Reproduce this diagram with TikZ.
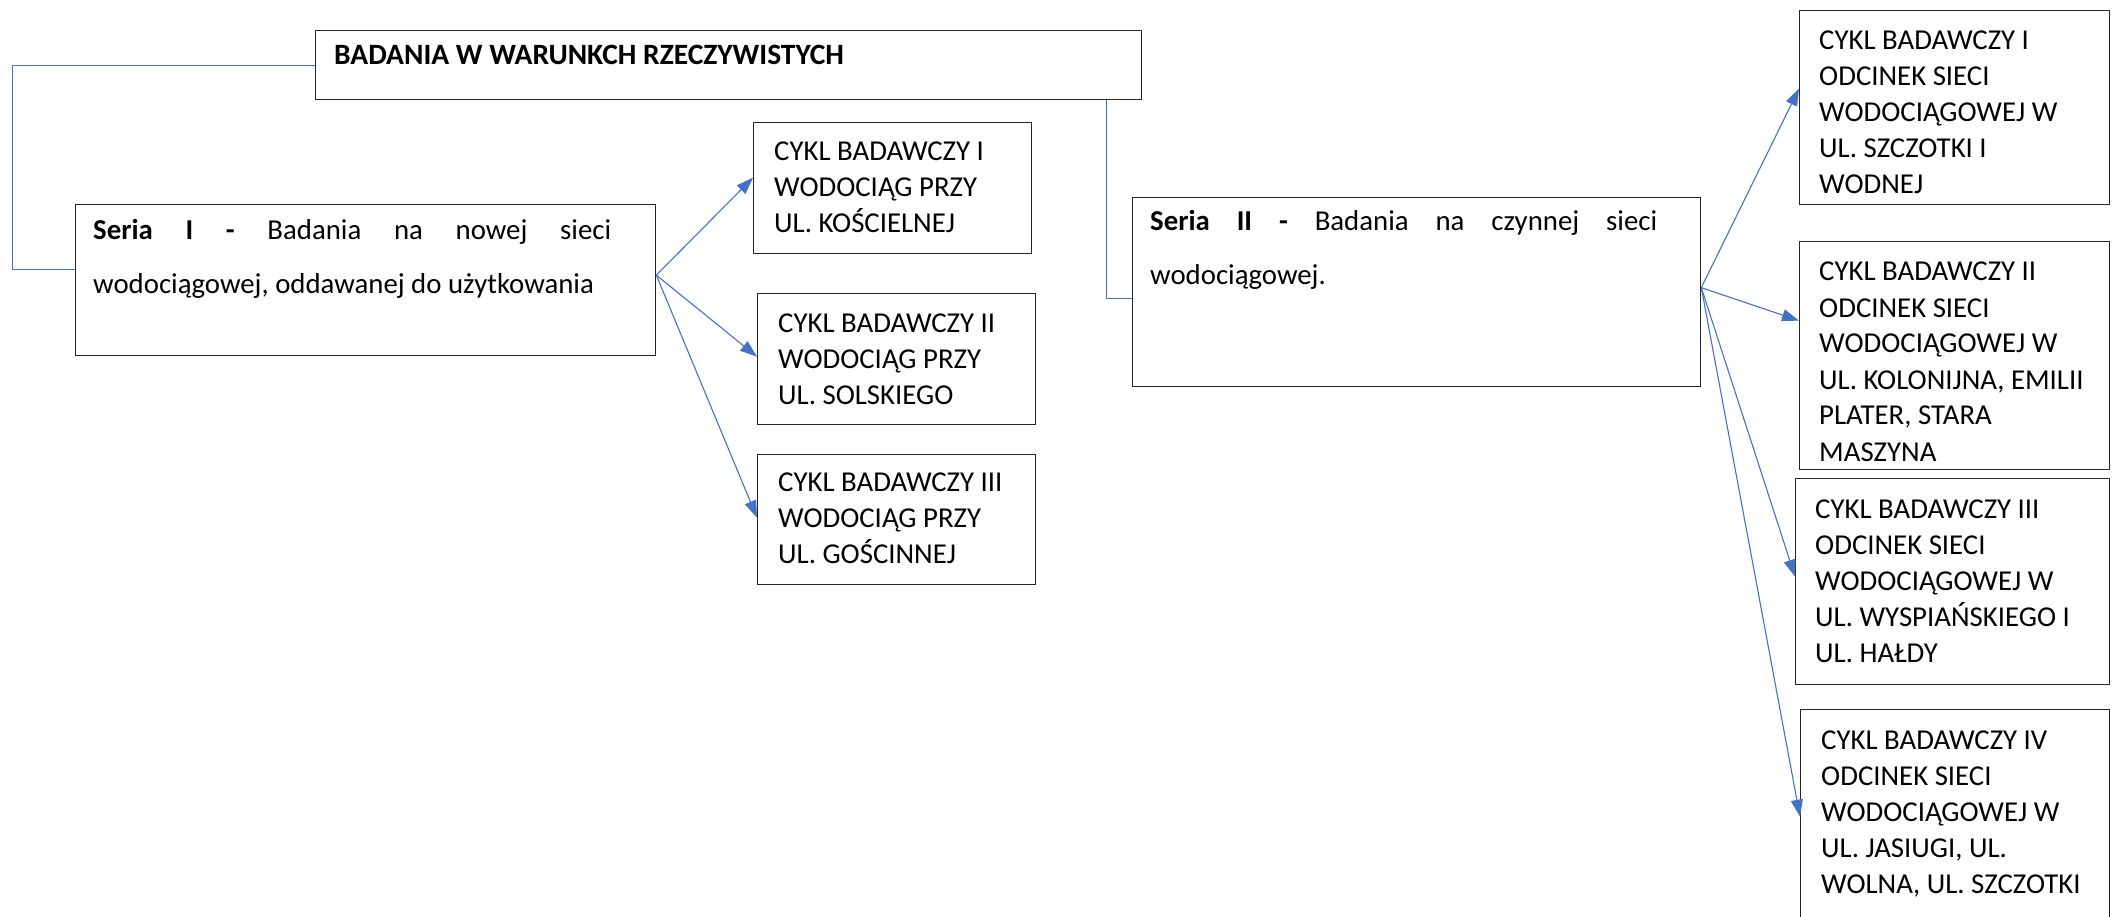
\documentclass[tikz,border=0pt]{standalone}
\usepackage{fontspec}
\setmainfont{Carlito}
\usetikzlibrary{arrows.meta,calc}
\definecolor{connc}{HTML}{4472C4}
\frenchspacing
\begin{document}
\begin{tikzpicture}[x=1pt,y=-1pt,
  boxst/.style={draw=black!85, line width=1.3pt, inner sep=0pt, anchor=north west},
  txt/.style={anchor=base west, inner sep=0pt, font=\fontsize{28.8}{36}\selectfont\frenchspacing},
  txtw/.style={txt, text width=#1, align=flush left},
  ar/.style={draw=connc, line width=1.1pt, -{Triangle[length=17pt,width=12pt]}},
  ln/.style={draw=connc, line width=1pt}]
\useasboundingbox[fill=white] (0,0) rectangle (2112,917);

% top box
\node[boxst, minimum width=826pt, minimum height=69pt] (top) at (315,30) {};
\node[txt, font=\fontsize{29.5}{36}\selectfont\bfseries] (topt) at (334,65) {BADANIA W WARUNKCH RZECZYWISTYCH};

% series boxes
\node[boxst, minimum width=580pt, minimum height=151pt] (s1) at (75,204) {};
\node[txt, text width=518pt, align=justify, font=\fontsize{28.8}{53.5}\selectfont] (s1t) at (93,240)
  {\textbf{Seria I -} Badania na nowej sieci\linebreak wodociągowej, oddawanej do użytkowania};

\node[boxst, minimum width=568pt, minimum height=189pt] (s2) at (1132,197) {};
\node[txt, text width=507pt, align=justify, font=\fontsize{28.8}{54}\selectfont] (s2t) at (1150,231)
  {\textbf{Seria II -} Badania na czynnej sieci\linebreak wodociągowej.};

% series I cycles
\node[boxst, minimum width=278pt, minimum height=131pt] (c1) at (753,122) {};
\node[txtw=255pt] (c1t) at (774,161) {CYKL BADAWCZY I\\WODOCIĄG PRZY\\UL. KOŚCIELNEJ};
\node[boxst, minimum width=278pt, minimum height=131pt] (c2) at (757,293) {};
\node[txtw=255pt] (c2t) at (778,332) {CYKL BADAWCZY II\\WODOCIĄG PRZY\\UL. SOLSKIEGO};
\node[boxst, minimum width=278pt, minimum height=130pt] (c3) at (757,454) {};
\node[txtw=255pt] (c3t) at (778,491) {CYKL BADAWCZY III\\WODOCIĄG PRZY\\UL. GOŚCINNEJ};

% series II cycles
\node[boxst, minimum width=310pt, minimum height=194pt] (r1) at (1799,10) {};
\node[txtw=288pt] (r1t) at (1819,50) {CYKL BADAWCZY I\\ODCINEK SIECI\\WODOCIĄGOWEJ W\\UL. SZCZOTKI I\\WODNEJ};
\node[boxst, minimum width=310pt, minimum height=228pt] (r2) at (1799,241) {};
\node[txtw=288pt] (r2t) at (1819,281) {CYKL BADAWCZY II\\ODCINEK SIECI\\WODOCIĄGOWEJ W\\UL. KOLONIJNA, EMILII\\PLATER, STARA\\MASZYNA};
\node[boxst, minimum width=314pt, minimum height=206pt] (r3) at (1795,478) {};
\node[txtw=288pt] (r3t) at (1815,518) {CYKL BADAWCZY III\\ODCINEK SIECI\\WODOCIĄGOWEJ W\\UL. WYSPIAŃSKIEGO I\\UL. HAŁDY};
\node[boxst, minimum width=309pt, minimum height=216pt] (r4) at (1800,709) {};
\node[txtw=288pt] (r4t) at (1821,749) {CYKL BADAWCZY IV\\ODCINEK SIECI\\WODOCIĄGOWEJ W\\UL. JASIUGI, UL.\\WOLNA, UL. SZCZOTKI};

% connectors from top box
\draw[ln] (top.west) -- ++(-303,0) |- ([yshift=11pt]s1.west);
\draw[ln] ([xshift=-36pt]top.south east) |- ([yshift=-6.5pt]s2.west);

% arrows
\draw[ar] ([yshift=5pt]s1.east) -- ([yshift=10.5pt]c1.west);
\draw[ar] ([yshift=5pt]s1.east) -- ([yshift=2.5pt]c2.west);
\draw[ar] ([yshift=5pt]s1.east) -- ([yshift=2pt]c3.west);

\draw[ar] ([yshift=4.5pt]s2.east) -- ([yshift=19pt]r1.west);
\draw[ar] ([yshift=4.5pt]s2.east) -- ([yshift=35pt]r2.west);
\draw[ar] ([yshift=4.5pt]s2.east) -- ([yshift=5pt]r3.west);
\draw[ar] ([yshift=4.5pt]s2.east) -- ([yshift=1pt]r4.west);
\end{tikzpicture}
\end{document}
